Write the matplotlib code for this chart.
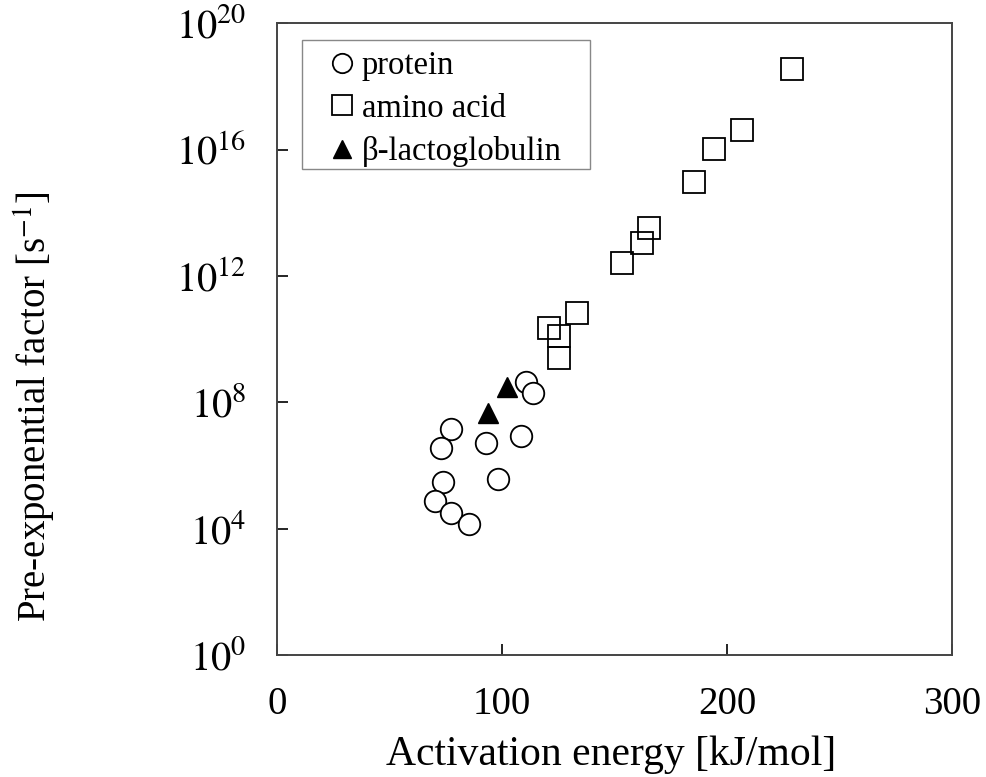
import numpy as np
import matplotlib
matplotlib.use("Agg")
import matplotlib.pyplot as plt
from matplotlib.patches import Rectangle

plt.rcParams["font.family"] = ["Liberation Serif", "DejaVu Serif"]
plt.rcParams["mathtext.fontset"] = "stix"

# data (x in kJ/mol, y as log10 of s^-1)
protein_E = [110.7, 113.9, 77.2, 72.9, 92.8, 108.4, 98.1, 73.6, 70.2, 77.2, 85.3]
protein_logA = [8.65, 8.30, 7.14, 6.54, 6.70, 6.93, 5.57, 5.48, 4.87, 4.50, 4.14]

amino_E = [228.8, 206.5, 194.4, 185.5, 165.5, 162.4, 153.2, 133.5, 121.0, 125.3, 125.3]
amino_logA = [18.56, 16.61, 16.01, 14.98, 13.52, 13.06, 12.40, 10.83, 10.36, 10.09, 9.41]

blg_E = [102.1, 93.9]
blg_logA = [8.49, 7.65]

x_ticks = [0, 100, 200, 300]
y_ticks = [0, 4, 8, 12, 16, 20]

fig = plt.figure(figsize=(9.87, 7.77), dpi=100)
ax = fig.add_axes([0.2806, 0.157, 0.684, 0.813])

ax.plot(protein_E, 10.0 ** np.array(protein_logA), "o", ms=15.5, mfc="white",
        mec="black", mew=1.3, label="protein", zorder=3)
ax.plot(amino_E, 10.0 ** np.array(amino_logA), "s", ms=16, mfc="none",
        mec="black", mew=1.3, label="amino acid", zorder=3)
ax.plot(blg_E, 10.0 ** np.array(blg_logA), "^", ms=15, mfc="black",
        mec="black", label="β-lactoglobulin", zorder=4)

ax.set_yscale("log")
ax.set_xlim(0, 300)
ax.set_ylim(1, 1e20)
ax.set_xticks(x_ticks)
ax.set_xticklabels([str(t) for t in x_ticks])
ax.set_yticks([10.0 ** t for t in y_ticks])
ax.set_yticklabels([r"$10^{%d}$" % t for t in y_ticks])
ax.yaxis.set_minor_locator(matplotlib.ticker.NullLocator())

ax.tick_params(direction="in", length=8, width=1.2, top=False, right=False)
ax.tick_params(axis="x", pad=22, labelsize=28)
ax.tick_params(axis="y", pad=22, labelsize=29)
for s in ax.spines.values():
    s.set_linewidth(1.4)
    s.set_color("#444444")

ax.set_xlabel("Activation energy [kJ/mol]", fontsize=30)
ax.xaxis.set_label_coords(0.495, -0.127)
ax.set_ylabel(r"Pre-exponential factor [s$^{-1}$]", fontsize=28)
ax.yaxis.set_label_coords(-0.325, 0.394)

# legend box drawn separately so it can be wider on the right
ax.add_patch(Rectangle((0.037, 0.77), 0.427, 0.203, transform=ax.transAxes,
                       fill=False, edgecolor="#888888", lw=1.0, zorder=5))
leg = ax.legend(loc="upper left", bbox_to_anchor=(0.0726, 0.957), fontsize=23.5,
                frameon=False, handletextpad=0.1, handlelength=1.0,
                borderpad=0.0, labelspacing=0.38, borderaxespad=0.0,
                markerscale=0.9)

fig.savefig("out.png", dpi=100)
